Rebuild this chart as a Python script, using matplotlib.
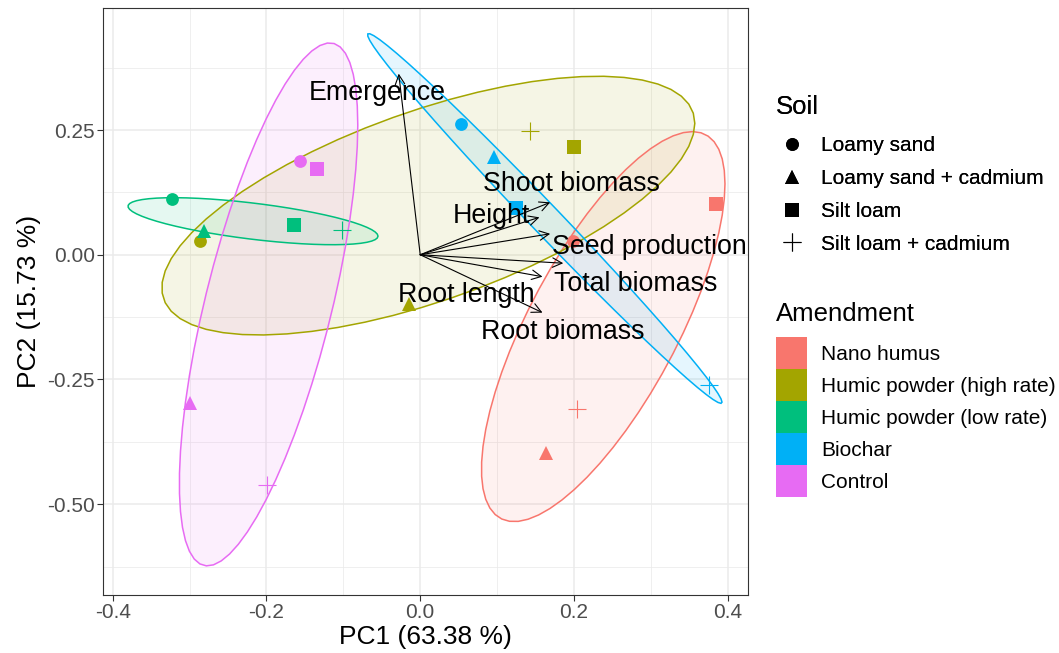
import numpy as np
import matplotlib
matplotlib.use('Agg')
from matplotlib import pyplot as plt
from matplotlib.lines import Line2D
from matplotlib.patches import Patch, Polygon

plt.rcParams['font.family'] = ['Liberation Sans', 'DejaVu Sans']

# sample scores on the first two components
amendments = ['Nano humus', 'Humic powder (high rate)', 'Humic powder (low rate)',
              'Biochar', 'Control']
soils = ['Loamy sand', 'Loamy sand + cadmium', 'Silt loam', 'Silt loam + cadmium']

# order of points within each amendment follows `soils`
pc1_nano = [0.199, 0.164, 0.385, 0.204]
pc2_nano = [0.028, -0.397, 0.102, -0.309]
pc1_high = [-0.287, -0.014, 0.200, 0.143]
pc2_high = [0.028, -0.098, 0.215, 0.249]
pc1_low = [-0.323, -0.281, -0.164, -0.102]
pc2_low = [0.111, 0.048, 0.060, 0.050]
pc1_bio = [0.053, 0.096, 0.124, 0.375]
pc2_bio = [0.263, 0.195, 0.094, -0.261]
pc1_ctrl = [-0.157, -0.299, -0.134, -0.199]
pc2_ctrl = [0.188, -0.297, 0.172, -0.461]

# variable loadings
variables = ['Emergence', 'Shoot biomass', 'Height', 'Seed production',
             'Total biomass', 'Root length', 'Root biomass']
load_pc1 = [-0.028, 0.169, 0.155, 0.169, 0.186, 0.159, 0.159]
load_pc2 = [0.363, 0.105, 0.075, 0.042, -0.017, -0.044, -0.116]

# label offsets (pixels) from the arrow tips
label_offsets = {'Emergence': (-21, -19), 'Shoot biomass': (21, 18), 'Height': (-48, 1),
                 'Seed production': (99, -13), 'Total biomass': (72, -21),
                 'Root length': (-76, -18), 'Root biomass': (20, -19)}

colors = ['#F8766D', '#A3A500', '#00BF7D', '#00B0F6', '#E76BF3']
markers = ['o', '^', 's', '+']
msizes = [9.2, 10.0, 9.5, 13.5]
ELLIPSE_RADIUS = 1.59


def ellipse_path(x, y, radius, segments=60):
    '''Ellipse from the sample covariance, same construction as stat_ellipse.'''
    pts = np.column_stack([x, y])
    center = pts.mean(axis=0)
    chol = np.linalg.cholesky(np.cov(pts.T)).T
    theta = np.linspace(0, 2 * np.pi, segments)
    circle = np.column_stack([np.cos(theta), np.sin(theta)])
    return center + radius * circle @ chol


fig = plt.figure(figsize=(10.59, 6.53), dpi=100)
ax = fig.add_axes([103 / 1059, 1 - 595 / 653, 645 / 1059, 587 / 653])

groups = [(pc1_nano, pc2_nano), (pc1_high, pc2_high), (pc1_low, pc2_low),
          (pc1_bio, pc2_bio), (pc1_ctrl, pc2_ctrl)]

for (gx, gy), col in zip(groups, colors):
    ell = ellipse_path(gx, gy, ELLIPSE_RADIUS)
    ax.add_patch(Polygon(ell, closed=True, facecolor=col, alpha=0.1,
                         edgecolor='none', zorder=2))
    ax.add_patch(Polygon(ell, closed=True, facecolor='none', edgecolor=col,
                         lw=1.1, zorder=2.1))

for (gx, gy), col in zip(groups, colors):
    for xv, yv, m, ms in zip(gx, gy, markers, msizes):
        ax.plot(xv, yv, marker=m, color=col, markersize=ms, mew=0.8 if m == '+' else 0,
                linestyle='none', zorder=3)

for name, lx, ly in zip(variables, load_pc1, load_pc2):
    ax.annotate('', xy=(lx, ly), xytext=(0, 0),
                arrowprops=dict(arrowstyle='->', lw=0.8, color='black',
                                shrinkA=0, shrinkB=0, mutation_scale=17),
                zorder=4)
    dx, dy = label_offsets[name]
    ax.annotate(name, xy=(lx, ly), xytext=(dx, dy), textcoords='offset pixels',
                ha='center', va='center', fontsize=19.3, color='black', zorder=5)

ax.set_xlim(-0.4126, 0.4263)
ax.set_ylim(-0.682, 0.4946)
ax.set_xticks([-0.4, -0.2, 0.0, 0.2, 0.4])
ax.set_xticklabels(['-0.4', '-0.2', '0.0', '0.2', '0.4'])
ax.set_yticks([-0.50, -0.25, 0.0, 0.25])
ax.set_yticklabels(['-0.50', '-0.25', '0.00', '0.25'])
ax.set_xticks([-0.3, -0.1, 0.1, 0.3], minor=True)
ax.set_yticks([-0.625, -0.375, -0.125, 0.125, 0.375], minor=True)
ax.grid(which='major', color='#EBEBEB', lw=1.1, zorder=0)
ax.grid(which='minor', color='#EBEBEB', lw=0.55, zorder=0)
ax.set_axisbelow(True)
ax.tick_params(which='major', length=4, width=0.8, color='#333333',
               labelsize=15, labelcolor='#4D4D4D', pad=2)
ax.tick_params(which='minor', length=0)
for sp in ax.spines.values():
    sp.set_color('#333333')
    sp.set_linewidth(0.8)
ax.set_xlabel('PC1 (63.38 %)', fontsize=19, labelpad=2)
ax.set_ylabel('PC2 (15.73 %)', fontsize=19, labelpad=4)

soil_handles = [Line2D([], [], marker=m, color='black', linestyle='none',
                       markersize=ms, mew=0.8 if m == '+' else 0)
                for m, ms in zip(markers, msizes)]
leg1 = fig.legend(soil_handles, soils, title='Soil', loc='upper left',
                  bbox_to_anchor=(776 / 1059, 1 - 95 / 653), frameon=False,
                  fontsize=15, title_fontsize=18.5, alignment='left',
                  borderpad=0, borderaxespad=0, handlelength=1.49,
                  handletextpad=0.67, labelspacing=0.66)
leg1._legend_box.sep = 12.5

amend_handles = [Patch(facecolor=c, edgecolor='none') for c in colors]
leg2 = fig.legend(amend_handles, amendments, title='Amendment', loc='upper left',
                  bbox_to_anchor=(776 / 1059, 1 - 302 / 653), frameon=False,
                  fontsize=15, title_fontsize=18.5, alignment='left',
                  borderpad=0, borderaxespad=0, handlelength=1.49, handleheight=1.986,
                  handletextpad=0.67, labelspacing=0)
leg2._legend_box.sep = 8
fig.add_artist(leg1)

fig.savefig('out.png', dpi=100)
